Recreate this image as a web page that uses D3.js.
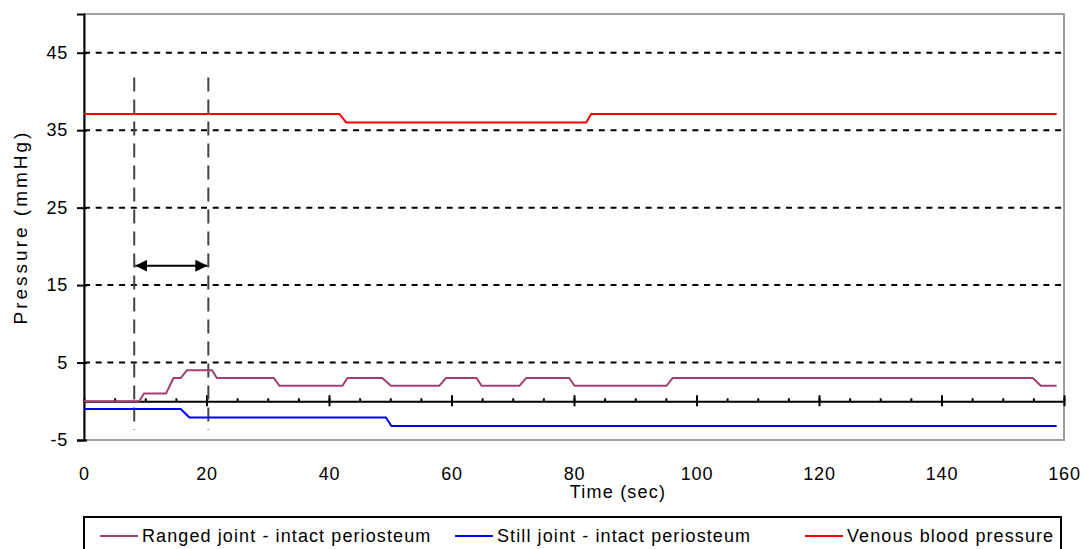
<!DOCTYPE html>
<html>
<head>
<meta charset="utf-8">
<script src="https://cdn.jsdelivr.net/npm/d3@7"></script>
<style>
  body { margin: 0; background: #fff; }
  svg text { font-family: Arial, "Liberation Sans", sans-serif; fill: #000; }
</style>
</head>
<body>
<svg id="chart" width="1083" height="549"></svg>
<script>
// values (time in sec, pressure in mmHg)
const rangedTime = [0, 9, 9.8, 13.4, 14.6, 15.8, 16.8, 20.9, 21.7, 31, 31.9, 42.2, 43, 48.7, 50.1, 58, 59.1, 64.1, 64.9, 71.1, 72.2, 79.2, 80.1, 95.1, 96.1, 154.9, 156.2, 158.8];
const rangedValue = [0, 0, 1, 1, 3, 3, 4, 4, 3, 3, 2, 2, 3, 3, 2, 2, 3, 3, 2, 2, 3, 3, 2, 2, 3, 3, 2, 2];
const stillTime = [0, 15.8, 17.2, 49.3, 50.2, 158.8];
const stillValue = [-1, -1, -2.1, -2.1, -3.2, -3.2];
const venousTime = [0, 41.7, 42.8, 82.0, 82.8, 158.8];
const venousValue = [37.1, 37.1, 36.0, 36.0, 37.1, 37.1];

const yTicks = [-5, 5, 15, 25, 35, 45];
const xTicks = [0, 20, 40, 60, 80, 100, 120, 140, 160];
const markerTimes = [8.2, 20.3];
const markerRange = [-3.7, 41.8];
const arrowLevel = 17.5;

const seriesNames = ["Ranged joint - intact periosteum", "Still joint - intact periosteum", "Venous blood pressure"];
const seriesColors = ["#a3406e", "#0000ff", "#ff0000"];

const svg = d3.select("#chart");
const plotLeft = 84, plotRight = 1064, plotTop = 14, plotBottom = 440;

const x = d3.scaleLinear().domain([0, 160]).range([plotLeft, plotRight]);
const y = d3.scaleLinear().domain([-5, 50]).range([plotBottom, plotTop]);

// frame (grey top/right/bottom)
svg.append("rect")
  .attr("x", plotLeft).attr("y", plotTop)
  .attr("width", plotRight - plotLeft).attr("height", plotBottom - plotTop)
  .attr("fill", "none").attr("stroke", "#a0a0a0").attr("stroke-width", 2);

// dashed horizontal gridlines
svg.append("g").selectAll("line")
  .data(yTicks.filter(d => d > -5))
  .enter().append("line")
  .attr("x1", plotLeft).attr("x2", plotRight)
  .attr("y1", d => y(d)).attr("y2", d => y(d))
  .attr("stroke", "#000").attr("stroke-width", 2)
  .attr("stroke-dasharray", "6,5.7");

// y axis
const yAxis = svg.append("g")
  .attr("transform", `translate(${plotLeft},0)`)
  .call(d3.axisLeft(y).tickValues(yTicks).tickSize(7).tickPadding(9).tickFormat(d => String(d)));
yAxis.select(".domain").attr("stroke", "#000").attr("stroke-width", 2);
yAxis.selectAll(".tick line").attr("stroke", "#000").attr("stroke-width", 2).attr("x2", -7);
yAxis.selectAll(".tick").append("line").attr("x1", 0).attr("x2", 3).attr("stroke", "#000").attr("stroke-width", 2);
yAxis.selectAll(".tick text").style("font-size", "18px").style("letter-spacing", "0.8px").attr("fill", "#000");

// x labels at bottom
const xAxis = svg.append("g")
  .attr("transform", `translate(0,${plotBottom})`)
  .call(d3.axisBottom(x).tickValues(xTicks).tickSize(0).tickPadding(27).tickFormat(d => String(d)));
xAxis.select(".domain").remove();
xAxis.selectAll(".tick text").style("font-size", "18px").style("letter-spacing", "0.8px").attr("fill", "#000");

// zero line with minor / major ticks
const zeroMinor = svg.append("g")
  .attr("transform", `translate(0,${y(0)})`)
  .call(d3.axisTop(x).tickValues(d3.range(0, 161, 5)).tickSize(3).tickSizeOuter(0).tickFormat(""));
zeroMinor.select(".domain").attr("stroke", "#000").attr("stroke-width", 2);
zeroMinor.selectAll(".tick line").attr("stroke", "#000").attr("stroke-width", 2);
const zeroMajor = svg.append("g")
  .attr("transform", `translate(0,${y(0)})`)
  .call(d3.axisBottom(x).tickValues(d3.range(20, 161, 20)).tickSize(5).tickSizeOuter(0).tickFormat(""));
zeroMajor.select(".domain").remove();
zeroMajor.selectAll(".tick line").attr("stroke", "#000").attr("stroke-width", 2).attr("y1", -6);

// vertical dashed markers
svg.append("g").selectAll("line")
  .data(markerTimes)
  .enter().append("line")
  .attr("x1", d => x(d)).attr("x2", d => x(d))
  .attr("y1", y(markerRange[1])).attr("y2", y(markerRange[0]))
  .attr("stroke", "#444").attr("stroke-width", 2)
  .attr("stroke-dasharray", "14,8");

// double arrow
const defs = svg.append("defs");
defs.append("marker").attr("id", "ahead")
  .attr("viewBox", "0 0 10 10").attr("refX", 10).attr("refY", 5)
  .attr("markerWidth", 12).attr("markerHeight", 12).attr("markerUnits", "userSpaceOnUse")
  .attr("orient", "auto-start-reverse")
  .append("path").attr("d", "M0,0L10,5L0,10z").attr("fill", "#000");
svg.append("line")
  .attr("x1", x(markerTimes[0]) + 1).attr("x2", x(markerTimes[1]) - 1)
  .attr("y1", y(arrowLevel)).attr("y2", y(arrowLevel))
  .attr("stroke", "#000").attr("stroke-width", 2)
  .attr("marker-start", "url(#ahead)").attr("marker-end", "url(#ahead)");

// series
const series = [
  { t: rangedTime, v: rangedValue },
  { t: stillTime, v: stillValue },
  { t: venousTime, v: venousValue }
];
const line = d3.line().x(d => x(d[0])).y(d => y(d[1]));
series.forEach((s, i) => {
  svg.append("path")
    .datum(s.t.map((t, k) => [t, s.v[k]]))
    .attr("d", line)
    .attr("fill", "none")
    .attr("stroke", seriesColors[i])
    .attr("stroke-width", 2);
});

// axis titles
svg.append("text")
  .attr("x", 618).attr("y", 498)
  .attr("text-anchor", "middle")
  .style("font-size", "18px").style("letter-spacing", "1.2px")
  .text("Time (sec)");
svg.append("text")
  .attr("transform", `translate(27,${(plotTop + plotBottom) / 2}) rotate(-90)`)
  .attr("text-anchor", "middle")
  .style("font-size", "19px").style("letter-spacing", "3px")
  .text("Pressure (mmHg)");

// legend
svg.append("rect")
  .attr("x", 84).attr("y", 517).attr("width", 977).attr("height", 50)
  .attr("fill", "#fff").attr("stroke", "#000").attr("stroke-width", 2);
const legendX = [100, 455, 805];
const legend = svg.append("g").selectAll("g")
  .data(seriesNames)
  .enter().append("g")
  .attr("transform", (d, i) => `translate(${legendX[i]},536)`);
legend.append("line")
  .attr("x1", 0).attr("x2", 38)
  .attr("stroke", (d, i) => seriesColors[i]).attr("stroke-width", 2);
legend.append("text")
  .attr("x", 42).attr("y", 6)
  .style("font-size", "18px").style("letter-spacing", "1.1px")
  .text(d => d);
</script>
</body>
</html>
